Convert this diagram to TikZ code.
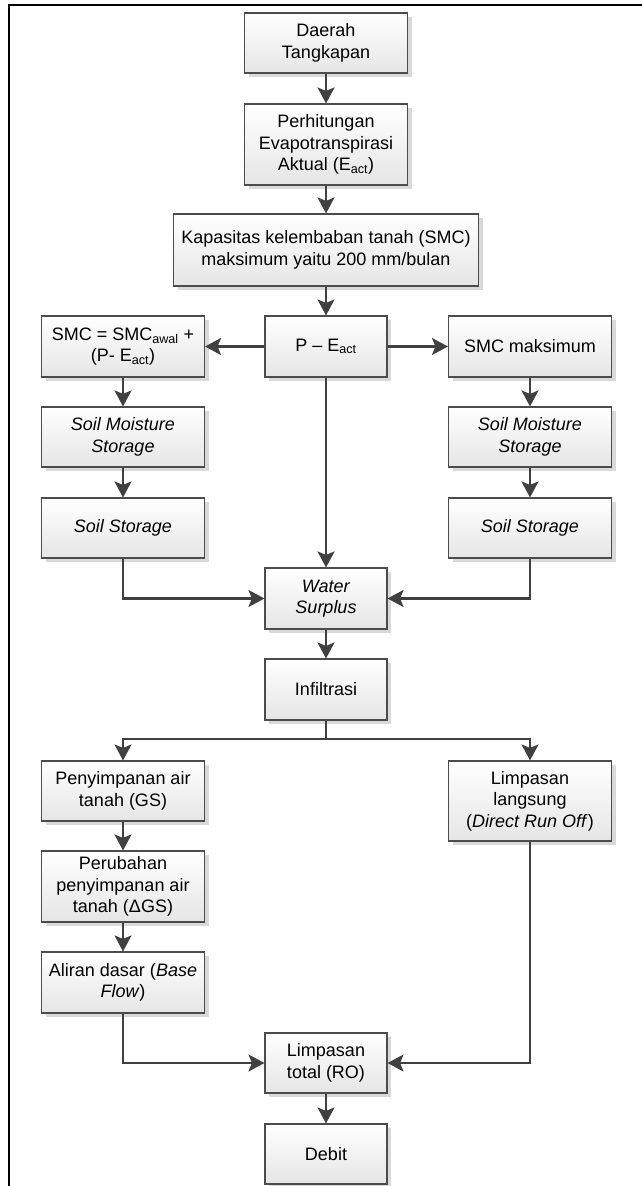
\documentclass[tikz,border=0pt]{standalone}
\usepackage{fontspec}
\setmainfont{Liberation Sans}
\usetikzlibrary{arrows.meta,shadows,calc}
\tikzset{
  box/.style={draw=black!70, line width=1.1pt, top color=white, bottom color=black!10,
    drop shadow={shadow xshift=4pt, shadow yshift=-4pt, fill=black!15, opacity=1},
    align=center, inner sep=0pt, text=black,
    font=\fontsize{18}{21.5}\selectfont},
  sidebox/.style={box, minimum width=163pt, minimum height=61pt},
  midbox/.style={box, minimum width=122pt, minimum height=61pt},
  arr/.style={-{Stealth[length=16pt,width=17pt,inset=3.5pt]}, line width=2.2pt, draw=black!75},
  lin/.style={line width=2.2pt, draw=black!75}
}
\begin{document}
\begin{tikzpicture}[x=1pt,y=-1pt]
\useasboundingbox (0,0) rectangle (642,1186);
\draw[line width=2pt] (642,5) -- (9,5) -- (9,1190);

\node[sidebox, minimum height=60pt] (daerah) at (326,43) {Daerah\\Tangkapan};
\node[sidebox, minimum height=81pt] (perhit) at (326,144.5) {Perhitungan\\Evapotranspirasi\\Aktual (E\textsubscript{act})};
\node[box, minimum width=305pt, minimum height=72pt] (kap) at (326,250) {Kapasitas kelembaban tanah (SMC)\\maksimum yaitu 200 mm/bulan};

\node[sidebox] (smc) at (123,346.5) {SMC = SMC\textsubscript{awal} +\\(P- E\textsubscript{act})};
\node[midbox] (pe) at (326,346.5) {P -- E\textsubscript{act}};
\node[sidebox] (smcmax) at (530,346.5) {SMC maksimum};

\node[sidebox, minimum height=60pt] (smsL) at (123,437) {\textit{Soil Moisture}\\\textit{Storage}};
\node[sidebox, minimum height=60pt] (smsR) at (530,437) {\textit{Soil Moisture}\\\textit{Storage}};
\node[sidebox, minimum height=60pt] (ssL) at (123,528) {\textit{Soil Storage}};
\node[sidebox, minimum height=60pt] (ssR) at (530,528) {\textit{Soil Storage}};

\node[midbox] (ws) at (326,598.5) {\textit{Water}\\\textit{Surplus}};
\node[midbox] (inf) at (326,689.5) {Infiltrasi};
\coordinate (br) at (326,739);

\node[sidebox, minimum height=60pt] (gs) at (123,791) {Penyimpanan air\\tanah (GS)};
\node[sidebox, minimum height=80pt] (dro) at (530,801) {Limpasan\\langsung\\(\textit{Direct Run Off})};
\node[sidebox, minimum height=71pt] (dgs) at (123,886.5) {Perubahan\\penyimpanan air\\tanah (ΔGS)};
\node[sidebox, minimum height=61pt] (bf) at (123,982.5) {Aliran dasar (\textit{Base}\\\textit{Flow})};

\node[midbox, minimum height=60pt] (ro) at (326,1063) {Limpasan\\total (RO)};
\node[midbox, minimum height=60pt] (debit) at (326,1154) {Debit};

\draw[arr] (daerah) -- (perhit);
\draw[arr] (perhit) -- (kap);
\draw[arr] (kap) -- (pe);
\draw[arr] (pe.west) -- (smc.east);
\draw[arr] (pe.east) -- (smcmax.west);
\draw[arr] (pe) -- (ws);
\draw[arr] (smc) -- (smsL);
\draw[arr] (smsL) -- (ssL);
\draw[arr] (smcmax) -- (smsR);
\draw[arr] (smsR) -- (ssR);
\draw[arr] (ssL.south) |- (ws.west);
\draw[arr] (ssR.south) |- (ws.east);
\draw[arr] (ws) -- (inf);
\draw[lin] (inf.south) -- (br);
\draw[arr] (br) -| (gs.north);
\draw[arr] (br) -| (dro.north);
\draw[arr] (gs) -- (dgs);
\draw[arr] (dgs) -- (bf);
\draw[arr] (bf.south) |- (ro.west);
\draw[arr] (dro.south) |- (ro.east);
\draw[arr] (ro) -- (debit);
\end{tikzpicture}
\end{document}
